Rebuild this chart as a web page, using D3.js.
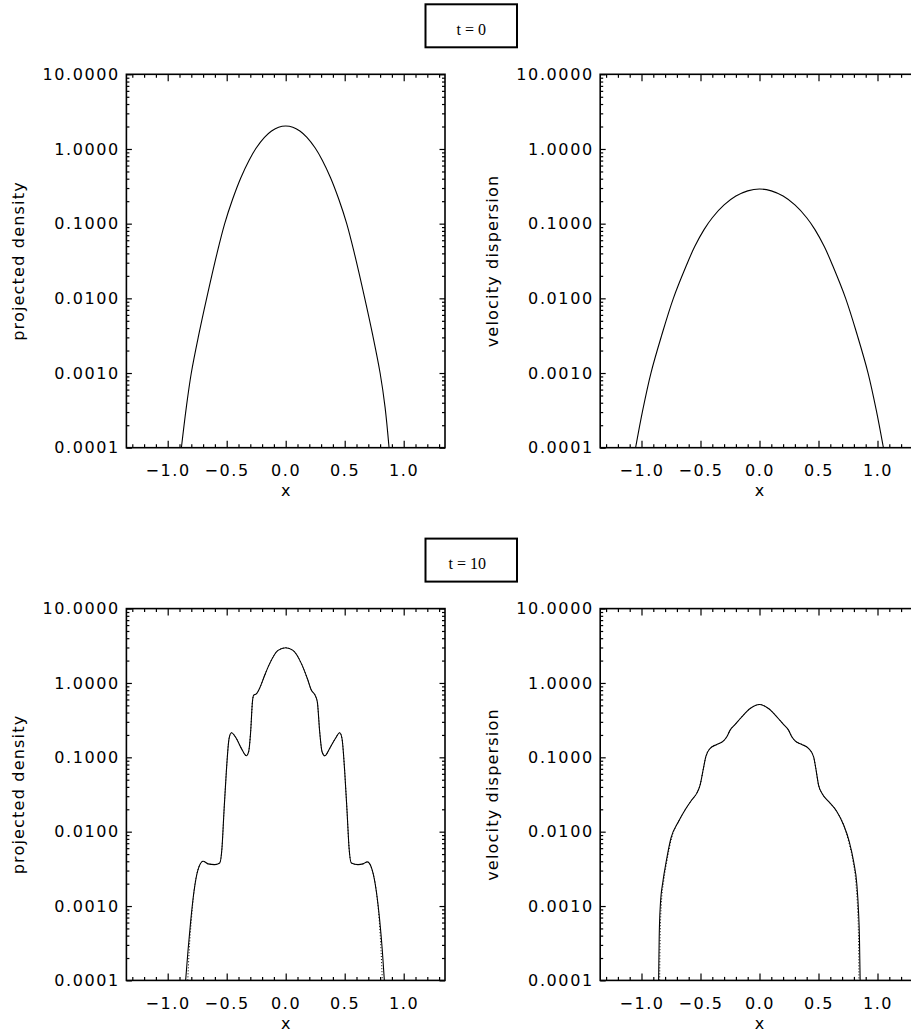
<!DOCTYPE html>
<html>
<head>
<meta charset="utf-8">
<script src="https://cdn.jsdelivr.net/npm/d3@7"></script>
<style>
  html, body { margin: 0; padding: 0; background: #fff; }
  svg { display: block; }
</style>
</head>
<body>
<svg id="fig" width="911" height="1033"></svg>
<script>
// ---- axis ticks and labels ----
const xMajorTicks = [-1.0, -0.5, 0.0, 0.5, 1.0];
const yMajorTicks = [0.0001, 0.001, 0.01, 0.1, 1, 10];
const xDomain = [-1.35, 1.35];
const yDomain = [0.0001, 10];
const timeLabels = [["t", "=", "0"], ["t", "=", "10"]];
const yTitles = ["projected density", "velocity dispersion"];
const xTitle = "x";

// ---- t = 0: projected density ----
const dens0X = [-0.884, -0.842, -0.80, -0.737, -0.67, -0.582, -0.517, -0.45, -0.38, -0.31, -0.25, -0.18, -0.12, -0.06, 0,
                0.06, 0.12, 0.18, 0.25, 0.31, 0.38, 0.45, 0.517, 0.582, 0.67, 0.737, 0.80, 0.842, 0.876];
const dens0Y = [0.0001, 0.00035, 0.0010, 0.00324, 0.010, 0.0401, 0.10, 0.212, 0.412, 0.708, 1.03, 1.43, 1.74, 1.96, 2.03,
                1.96, 1.74, 1.43, 1.03, 0.708, 0.412, 0.212, 0.10, 0.0401, 0.010, 0.00324, 0.0010, 0.00035, 0.0001];

// ---- t = 0: velocity dispersion ----
const disp0X = [-1.05, -0.99, -0.92, -0.83, -0.73, -0.62, -0.55, -0.47, -0.40, -0.30, -0.20, -0.10, 0,
                0.10, 0.20, 0.30, 0.40, 0.47, 0.55, 0.62, 0.73, 0.83, 0.92, 0.99, 1.05];
const disp0Y = [0.0001, 0.000316, 0.0010, 0.00316, 0.010, 0.0275, 0.049, 0.0832, 0.120, 0.178, 0.234, 0.275, 0.291,
                0.275, 0.234, 0.178, 0.120, 0.0832, 0.049, 0.0275, 0.010, 0.00316, 0.0010, 0.000316, 0.0001];

// ---- t = 10: projected density ----
const dens10X = [-0.848, -0.828, -0.805, -0.777, -0.743, -0.70, -0.658, -0.602, -0.559, -0.54, -0.523, -0.503, -0.48,
                 -0.46, -0.418, -0.376, -0.333, -0.314, -0.297, -0.282, -0.271, -0.249, -0.22, -0.178, -0.136, -0.065, 0,
                 0.062, 0.133, 0.184, 0.218, 0.246, 0.268, 0.288, 0.308, 0.331, 0.373, 0.421, 0.458, 0.477, 0.50,
                 0.52, 0.537, 0.556, 0.613, 0.655, 0.692, 0.732, 0.768, 0.797, 0.819, 0.836];
const dens10Y = [0.0001, 0.000251, 0.000631, 0.00158, 0.00309, 0.00401, 0.00369, 0.00361, 0.0038, 0.00604, 0.0187, 0.0646, 0.179,
                 0.214, 0.179, 0.132, 0.105, 0.119, 0.221, 0.557, 0.684, 0.713, 0.857, 1.27, 1.82, 2.74, 2.97,
                 2.74, 1.82, 1.14, 0.798, 0.698, 0.557, 0.221, 0.119, 0.105, 0.132, 0.179, 0.214, 0.179, 0.0646,
                 0.0187, 0.00604, 0.0038, 0.00361, 0.00369, 0.00393, 0.00309, 0.00158, 0.000631, 0.000251, 0.0001];
// comparison run (dotted): differs only in the outer wings
const dens10DotLX = [-0.83, -0.818, -0.80];
const dens10DotLY = [0.0001, 0.000251, 0.000631];
const dens10DotRX = [0.793, 0.808, 0.819];
const dens10DotRY = [0.000631, 0.000251, 0.0001];

// ---- t = 10: velocity dispersion ----
const disp10X = [-0.855, -0.85, -0.84, -0.818, -0.79, -0.75, -0.686, -0.63, -0.573, -0.531, -0.503, -0.475, -0.455,
                 -0.418, -0.362, -0.305, -0.277, -0.249, -0.206, -0.15, -0.079, 0,
                 0.076, 0.147, 0.203, 0.246, 0.274, 0.302, 0.359, 0.415, 0.458, 0.477, 0.50,
                 0.534, 0.585, 0.655, 0.712, 0.76, 0.797, 0.825, 0.839, 0.847, 0.853];
const disp10Y = [0.0001, 0.000377, 0.00105, 0.00216, 0.00401, 0.00822, 0.0137, 0.0197, 0.0269, 0.033, 0.0426, 0.0713, 0.102,
                 0.132, 0.149, 0.166, 0.189, 0.232, 0.277, 0.351, 0.453, 0.513,
                 0.453, 0.351, 0.277, 0.232, 0.189, 0.166, 0.149, 0.132, 0.102, 0.0713, 0.0426,
                 0.0319, 0.0255, 0.0187, 0.0124, 0.00743, 0.00401, 0.00195, 0.000857, 0.000377, 0.0001];
const disp10DotLX = [-0.846, -0.842, -0.832, -0.812, -0.785, -0.745];
const disp10DotLY = [0.0001, 0.000377, 0.00105, 0.00216, 0.00401, 0.00822];
const disp10DotRX = [0.755, 0.792, 0.818, 0.832, 0.839, 0.843];
const disp10DotRY = [0.00743, 0.00401, 0.00195, 0.000857, 0.000377, 0.0001];

// ---- helpers to pair arrays into point lists ----
const pts = (xs, ys) => xs.map((v, i) => ({ x: v, y: ys[i] }));
function withWings(xs, ys, lx, ly, rx, ry) {
  const inner = pts(xs, ys).filter(p => p.x > lx[lx.length - 1] && p.x < rx[0]);
  return [...pts(lx, ly), ...inner, ...pts(rx, ry)];
}

// ---- layout ----
const colRanges = [[126.4, 445.0], [600.2, 918.8]];
const rowRanges = [[447.7, 74.3], [980.4, 608.6]];

const smooth = d3.curveCatmullRom.alpha(0.5);
const panels = [
  { col: 0, row: 0, title: yTitles[0], curve: smooth, solid: pts(dens0X, dens0Y), dotted: null },
  { col: 1, row: 0, title: yTitles[1], curve: smooth, solid: pts(disp0X, disp0Y), dotted: null },
  { col: 0, row: 1, title: yTitles[0], curve: d3.curveMonotoneX, solid: pts(dens10X, dens10Y),
    dotted: withWings(dens10X, dens10Y, dens10DotLX, dens10DotLY, dens10DotRX, dens10DotRY) },
  { col: 1, row: 1, title: yTitles[1], curve: d3.curveMonotoneX, solid: pts(disp10X, disp10Y),
    dotted: withWings(disp10X, disp10Y, disp10DotLX, disp10DotLY, disp10DotRX, disp10DotRY) }
];

const svg = d3.select("#fig");
const FONT = "'DejaVu Sans', Verdana, sans-serif";
const defs = svg.append("defs");

function styleAxis(g, showText) {
  g.select(".domain").remove();
  g.selectAll(".tick line").attr("stroke", "#000").attr("stroke-width", 1.2);
  if (showText) {
    g.selectAll(".tick text")
      .attr("fill", "#000")
      .style("font-family", FONT)
      .style("font-size", "16px")
      .style("letter-spacing", "1.6px");
  } else {
    g.selectAll(".tick text").remove();
  }
}

panels.forEach((p, i) => {
  const x = d3.scaleLinear().domain(xDomain).range(colRanges[p.col]);
  const y = d3.scaleLog().domain(yDomain).range(rowRanges[p.row]);
  const [x0, x1] = x.range();
  const [yb, yt] = y.range();
  const g = svg.append("g");

  const xMinor = d3.range(-13, 14).map(k => k / 10).filter(v => !xMajorTicks.includes(v));
  const yMinor = y.ticks().filter(v => Math.abs(Math.log10(v) - Math.round(Math.log10(v))) > 1e-6);

  // bottom axis (labelled) + minor ticks
  g.append("g").attr("transform", `translate(0,${yb})`)
    .call(d3.axisBottom(x).tickValues(xMajorTicks).tickSize(-7).tickSizeOuter(0)
      .tickPadding(17).tickFormat(d3.format(".1f")))
    .call(a => styleAxis(a, true));
  g.append("g").attr("transform", `translate(0,${yb})`)
    .call(d3.axisBottom(x).tickValues(xMinor).tickSize(-3.5).tickSizeOuter(0).tickFormat(""))
    .call(a => styleAxis(a, false));
  // top axis (ticks only)
  g.append("g").attr("transform", `translate(0,${yt})`)
    .call(d3.axisTop(x).tickValues(xMajorTicks).tickSize(-7).tickSizeOuter(0).tickFormat(""))
    .call(a => styleAxis(a, false));
  g.append("g").attr("transform", `translate(0,${yt})`)
    .call(d3.axisTop(x).tickValues(xMinor).tickSize(-3.5).tickSizeOuter(0).tickFormat(""))
    .call(a => styleAxis(a, false));
  // left axis (labelled) + minor ticks
  g.append("g").attr("transform", `translate(${x0},0)`)
    .call(d3.axisLeft(y).tickValues(yMajorTicks).tickSize(-5.5).tickSizeOuter(0)
      .tickPadding(6.5).tickFormat(d3.format(".4f")))
    .call(a => styleAxis(a, true));
  g.append("g").attr("transform", `translate(${x0},0)`)
    .call(d3.axisLeft(y).tickValues(yMinor).tickSize(-3).tickSizeOuter(0).tickFormat(""))
    .call(a => styleAxis(a, false));
  // right axis (ticks only)
  g.append("g").attr("transform", `translate(${x1},0)`)
    .call(d3.axisRight(y).tickValues(yMajorTicks).tickSize(-5.5).tickSizeOuter(0).tickFormat(""))
    .call(a => styleAxis(a, false));
  g.append("g").attr("transform", `translate(${x1},0)`)
    .call(d3.axisRight(y).tickValues(yMinor).tickSize(-3).tickSizeOuter(0).tickFormat(""))
    .call(a => styleAxis(a, false));

  // frame
  g.append("rect")
    .attr("x", x0).attr("y", yt).attr("width", x1 - x0).attr("height", yb - yt)
    .attr("fill", "none").attr("stroke", "#000").attr("stroke-width", 1.6);

  // curves
  const clipId = `clip-${i}`;
  defs.append("clipPath").attr("id", clipId)
    .append("rect").attr("x", x0).attr("y", yt).attr("width", x1 - x0).attr("height", yb - yt);
  const line = d3.line().x(d => x(d.x)).y(d => y(d.y)).curve(p.curve);
  const plot = g.append("g").attr("clip-path", `url(#${clipId})`);
  if (p.dotted) {
    plot.append("path").datum(p.dotted)
      .attr("d", line).attr("fill", "none").attr("stroke", "#000")
      .attr("stroke-width", 1).attr("stroke-dasharray", "1,2");
  }
  plot.append("path").datum(p.solid)
    .attr("d", line).attr("fill", "none").attr("stroke", "#000").attr("stroke-width", 1.1)
    .attr("stroke-linejoin", "round");

  // axis titles
  g.append("text")
    .attr("x", (x0 + x1) / 2).attr("y", yb + 48.5)
    .attr("text-anchor", "middle")
    .style("font-family", FONT).style("font-size", "16px")
    .text(xTitle);
  g.append("text")
    .attr("transform", `translate(${x0 - 102},${(yt + yb) / 2}) rotate(-90)`)
    .attr("text-anchor", "middle")
    .style("font-family", FONT).style("font-size", "16px").style("letter-spacing", "1.2px")
    .text(p.title);
});

// time stamp boxes above each row
rowRanges.forEach((r, k) => {
  const top = r[1] - 70;
  svg.append("rect")
    .attr("x", 425.5).attr("y", top).attr("width", 91.5).attr("height", 43)
    .attr("fill", "none").attr("stroke", "#000").attr("stroke-width", 2);
  const t = svg.append("text")
    .attr("x", 486).attr("y", top + 30.3)
    .attr("text-anchor", "end")
    .style("font-family", "'Liberation Serif', 'DejaVu Serif', serif")
    .style("font-size", "16px");
  const [a, eq, b] = timeLabels[k];
  t.append("tspan").text(a);
  t.append("tspan").attr("dx", 4).text(eq);
  t.append("tspan").attr("dx", 4).text(b);
});
</script>
</body>
</html>
